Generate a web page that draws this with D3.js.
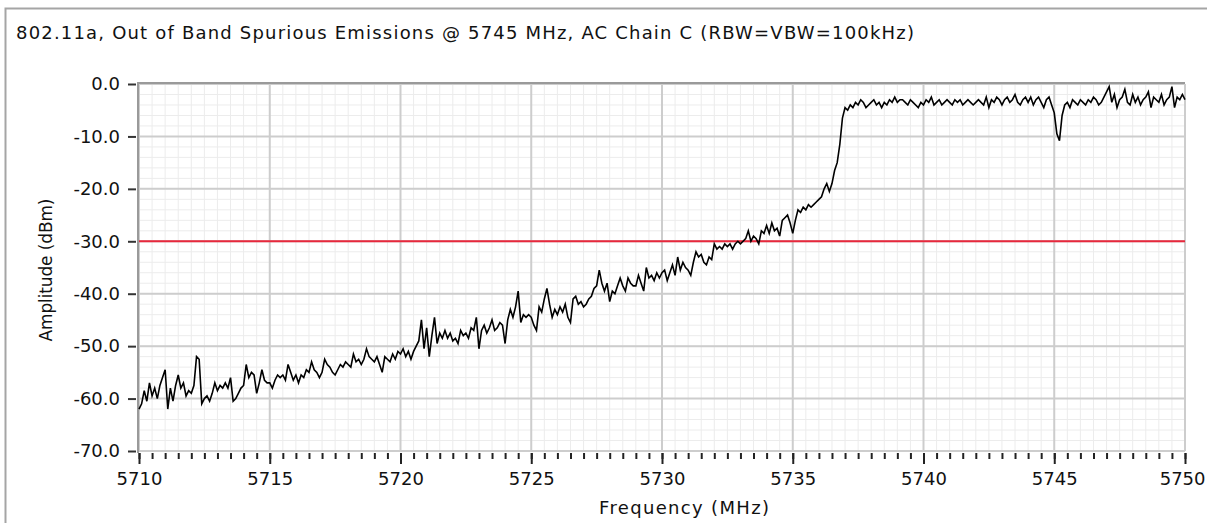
<!DOCTYPE html>
<html lang="en">
<head>
    <meta charset="utf-8">
    <script src="https://cdn.jsdelivr.net/npm/d3@7"></script>
    <style>
        body { margin: 0; background: white; }
        text { font-family: "DejaVu Sans", sans-serif; fill: #111; }
        .minor line { stroke: #ececec; stroke-width: 1px; }
        .major line { stroke: #cdcdcd; stroke-width: 2px; }
    </style>
</head>
<body>
<script>
    const title = "802.11a, Out of Band Spurious Emissions @ 5745 MHz, AC Chain C (RBW=VBW=100kHz)";
    const xLabel = "Frequency (MHz)";
    const yLabel = "Amplitude (dBm)";

    const xTicks = [5710, 5715, 5720, 5725, 5730, 5735, 5740, 5745, 5750];
    const yTicks = [0, -10, -20, -30, -40, -50, -60, -70];
    const limit = -30;

    // sweep 5710..5750 MHz, one value every 0.1 MHz (one row per MHz)
    const sweepStart = 5710, sweepStep = 0.1;
    const amplitude = [
        -62.0, -61.0, -58.5, -60.5, -57.0, -59.5, -58.0, -60.0, -57.5, -56.0,
        -54.5, -62.0, -58.0, -60.5, -57.5, -55.5, -58.0, -57.0, -59.5, -58.5,
        -59.0, -57.5, -52.0, -52.5, -61.0, -60.0, -59.5, -60.5, -59.0, -57.0,
        -58.5, -57.5, -58.0, -57.0, -58.0, -56.0, -60.5, -60.0, -59.0, -58.0,
        -57.5, -53.5, -56.0, -55.0, -55.5, -59.0, -57.0, -54.5, -56.5, -57.0,
        -57.0, -58.0, -56.5, -55.5, -56.0, -55.5, -56.5, -53.5, -55.0, -56.5,
        -55.5, -57.0, -55.5, -56.0, -54.5, -55.0, -53.0, -54.5, -55.0, -56.0,
        -55.0, -52.5, -53.5, -54.0, -55.0, -55.5, -54.5, -53.5, -54.0, -53.0,
        -53.5, -54.0, -51.5, -53.0, -52.5, -53.5, -52.5, -50.5, -52.0, -52.5,
        -53.0, -52.0, -53.5, -55.0, -52.0, -52.5, -53.0, -51.5, -52.5, -51.0,
        -51.5, -50.5, -52.0, -51.0, -52.5, -51.0, -50.0, -49.0, -45.0, -50.5,
        -46.5, -52.0, -48.0, -44.5, -49.5, -47.5, -48.5, -47.0, -48.5, -47.5,
        -49.0, -48.5, -49.5, -47.0, -48.0, -47.5, -48.5, -46.5, -47.0, -44.5,
        -50.5, -47.0, -46.0, -47.5, -46.5, -45.0, -47.0, -46.5, -45.5, -46.0,
        -49.5, -45.0, -43.0, -44.5, -42.5, -39.5, -45.5, -44.0, -44.5, -44.0,
        -44.5, -46.0, -47.0, -42.5, -43.5, -41.0, -39.0, -42.0, -44.5, -43.0,
        -44.0, -42.5, -43.5, -42.0, -44.5, -45.5, -41.0, -40.5, -42.0, -41.5,
        -42.5, -42.0, -41.0, -40.5, -39.0, -38.5, -35.5, -38.0, -39.5, -38.0,
        -41.5, -39.5, -40.0, -38.5, -37.0, -38.5, -39.5, -37.0, -38.0, -38.5,
        -38.5, -36.5, -38.0, -39.5, -35.0, -37.0, -36.5, -37.5, -36.0, -37.0,
        -36.0, -35.5, -37.5, -36.0, -34.5, -36.5, -33.0, -35.5, -34.0, -35.0,
        -35.5, -36.5, -34.0, -32.0, -33.0, -32.5, -34.0, -34.5, -33.0, -33.5,
        -30.5, -31.5, -31.0, -31.5, -30.5, -31.0, -30.5, -31.5, -30.5, -30.0,
        -30.5, -30.0, -29.5, -28.0, -30.0, -29.0, -29.5, -30.5, -28.0, -28.5,
        -27.0, -28.5, -26.5, -28.0, -27.5, -29.0, -26.0, -25.5, -25.0, -26.5,
        -28.5, -26.0, -24.0, -24.5, -23.5, -24.0, -23.0, -23.5, -23.0, -22.5,
        -22.0, -21.5, -20.0, -19.0, -20.5, -19.0, -16.5, -15.0, -11.5, -6.5,
        -4.5, -5.0, -4.0, -4.5, -3.5, -4.0, -3.0, -3.5, -4.5, -4.0,
        -3.5, -3.0, -4.0, -3.5, -4.5, -3.5, -4.0, -3.0, -3.5, -2.5,
        -3.5, -3.0, -3.0, -3.5, -4.0, -3.0, -3.5, -4.0, -4.5, -3.5,
        -4.0, -3.0, -3.5, -2.5, -4.0, -3.5, -3.0, -4.0, -3.5, -3.0,
        -3.5, -4.0, -3.0, -3.5, -3.0, -4.0, -3.5, -3.0, -3.5, -4.0,
        -3.5, -3.0, -3.5, -4.0, -2.5, -4.5, -3.0, -3.5, -2.5, -3.0,
        -4.0, -3.0, -2.5, -3.5, -3.0, -2.0, -3.5, -4.0, -3.0, -2.5,
        -3.5, -2.5, -4.0, -3.0, -2.5, -3.5, -4.5, -3.0, -2.5, -4.0,
        -5.5, -9.5, -10.8, -6.0, -4.0, -3.5, -4.5, -3.0, -3.5, -4.0,
        -3.0, -3.5, -4.0, -3.0, -3.5, -2.5, -3.0, -4.0, -3.5, -2.5,
        -1.5, -0.5, -3.5, -2.0, -4.5, -3.0, -2.5, -1.0, -3.5, -4.0,
        -2.0, -3.5, -2.5, -4.0, -3.0, -2.5, -1.5, -4.5, -2.5, -3.0,
        -3.5, -2.0, -4.0, -3.0, -2.5, -0.5, -4.5, -2.5, -3.0, -2.0,
        -3.0
    ];

    const W = 1207, H = 523;
    const svg = d3.select("body").append("svg").attr("width", W).attr("height", H);

    // outer panel frame
    svg.append("rect").attr("x", 5.5).attr("y", 8.5).attr("width", W).attr("height", H)
        .attr("fill", "white").attr("stroke", "#a5a5a5").attr("stroke-width", 2);

    svg.append("text").attr("x", 16).attr("y", 39).style("font-size", "18px")
        .attr("textLength", 898).attr("lengthAdjust", "spacing").text(title);

    const x = d3.scaleLinear().domain([5710, 5750]).range([139, 1185]);
    const y = d3.scaleLinear().domain([-70, 0]).range([451, 84]);

    // minor grid
    const minor = svg.append("g").attr("class", "minor");
    minor.selectAll(".v").data(d3.range(5710, 5750.01, 0.5)).enter().append("line")
        .attr("x1", d => x(d)).attr("x2", d => x(d)).attr("y1", y(0)).attr("y2", y(-70));
    minor.selectAll(".h").data(d3.range(-70, 0.01, 2)).enter().append("line")
        .attr("y1", d => y(d)).attr("y2", d => y(d)).attr("x1", x(5710)).attr("x2", x(5750));

    // major grid
    const major = svg.append("g").attr("class", "major");
    major.selectAll(".v").data(xTicks).enter().append("line")
        .attr("x1", d => x(d)).attr("x2", d => x(d)).attr("y1", y(0)).attr("y2", y(-70));
    major.selectAll(".h").data(yTicks).enter().append("line")
        .attr("y1", d => y(d)).attr("y2", d => y(d)).attr("x1", x(5710)).attr("x2", x(5750));

    // plot frame (left + top)
    svg.append("path").attr("d", `M${x(5710) - 1},${y(-70) + 2}V${y(0) - 1}H${x(5750)}`)
        .attr("fill", "none").attr("stroke", "#9a9a9a").attr("stroke-width", 2);

    // y axis ticks and labels (plain hyphen like the original)
    const fmt = d3.format(".1f");
    const yAxis = svg.append("g").attr("transform", `translate(${x(5710) - 3},0)`)
        .call(d3.axisLeft(y).tickValues(yTicks).tickFormat(d => fmt(d).replace("\u2212", "-"))
            .tickSize(8).tickPadding(8));
    yAxis.select(".domain").remove();
    yAxis.selectAll(".tick line").attr("stroke", "#333").attr("stroke-width", 2);
    yAxis.selectAll("text").style("font-size", "18px").style("font-family", "DejaVu Sans").attr("fill", "#111");

    // x axis: major + minor ticks
    const xMinor = svg.append("g").attr("transform", `translate(0,${y(-70) + 2})`)
        .call(d3.axisBottom(x).tickValues(d3.range(5710, 5750.01, 0.5)).tickSize(6).tickFormat(""));
    xMinor.select(".domain").remove();
    xMinor.selectAll(".tick line").attr("stroke", "#222").attr("stroke-width", 2);
    const xAxis = svg.append("g").attr("transform", `translate(0,${y(-70) + 2})`)
        .call(d3.axisBottom(x).tickValues(xTicks).tickFormat(d3.format("d")).tickSize(11).tickPadding(8));
    xAxis.select(".domain").remove();
    xAxis.selectAll(".tick line").attr("stroke", "#222").attr("stroke-width", 2);
    xAxis.selectAll("text").style("font-size", "18px").style("font-family", "DejaVu Sans").attr("fill", "#111");
    // last label sits flush against the right edge, keep it inside
    xAxis.selectAll("text").filter(d => d === 5750).attr("text-anchor", "end").attr("dx", W - 2 - x(5750));

    // limit line
    svg.append("line").attr("x1", x(5710)).attr("x2", x(5750)).attr("y1", y(limit)).attr("y2", y(limit))
        .attr("stroke", "#e8283c").attr("stroke-width", 2);

    // trace
    const line = d3.line().x((d, i) => x(sweepStart + i * sweepStep)).y(d => y(d));
    svg.append("path").datum(amplitude).attr("d", line)
        .attr("fill", "none").attr("stroke", "#000").attr("stroke-width", 1.6);

    svg.append("text").attr("x", 684).attr("y", 514).attr("text-anchor", "middle")
        .style("font-size", "18px").attr("textLength", 170).attr("lengthAdjust", "spacing").text(xLabel);
    svg.append("text").attr("transform", "translate(52,270) rotate(-90)").attr("text-anchor", "middle")
        .style("font-size", "17px").attr("textLength", 143).attr("lengthAdjust", "spacing").text(yLabel);
</script>
</body>
</html>
